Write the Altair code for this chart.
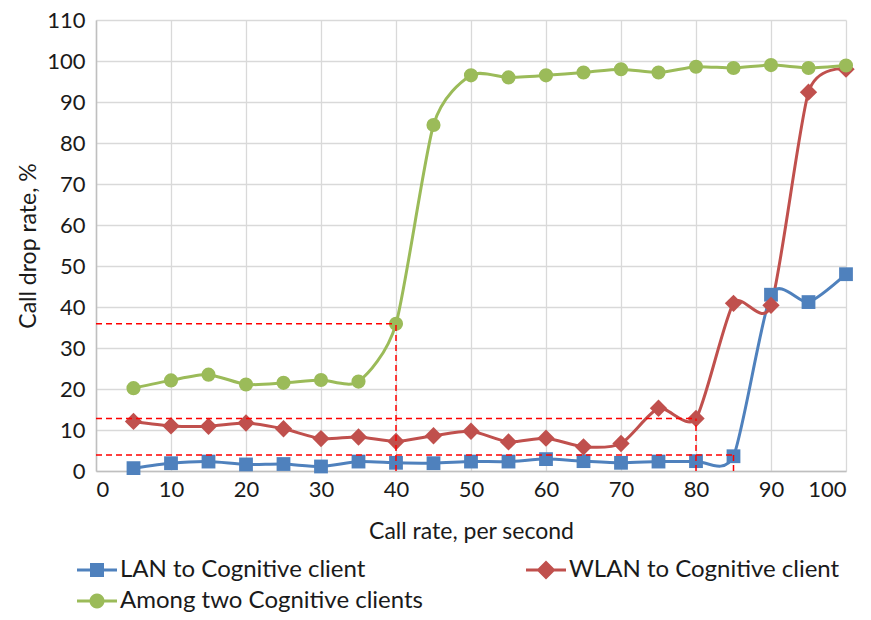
import math
import altair as alt
import pandas as pd

call_rate = [5, 10, 15, 20, 25, 30, 35, 40, 45, 50, 55, 60, 65, 70, 75, 80, 85, 90, 95, 100]
lan = [0.7, 1.9, 2.3, 1.6, 1.7, 1.1, 2.3, 2.0, 1.9, 2.3, 2.3, 2.9, 2.4, 2.0, 2.3, 2.4, 3.6, 43.0, 41.2, 48.0]
wlan = [12.1, 11.0, 10.9, 11.7, 10.3, 7.9, 8.3, 7.2, 8.6, 9.7, 7.1, 8.0, 5.9, 6.7, 15.3, 12.8, 40.9, 40.4, 92.4, 98.0]
among = [20.2, 22.1, 23.5, 21.1, 21.5, 22.2, 21.8, 35.9, 84.4, 96.5, 96.0, 96.5, 97.2, 98.0, 97.2, 98.6, 98.3, 99.0, 98.3, 98.9]

series_names = ["LAN to Cognitive client", "WLAN to Cognitive client", "Among two Cognitive clients"]
series_colors = ["#4f81bd", "#c0504d", "#9bbb59"]
series_shapes = ["square", "diamond", "circle"]
series_sizes = [190, 300, 200]

# legend fills column by column: this order puts LAN, WLAN on row 1 and Among on row 2
legend_order = ["LAN to Cognitive client", "Among two Cognitive clients", "WLAN to Cognitive client"]

ref_x = [40, 80, 85]
ref_y = [35.9, 12.8, 3.9]

x_ticks = list(range(0, 101, 10))
y_ticks = list(range(0, 111, 10))

rows = []
for name, vals in zip(series_names, [lan, wlan, among]):
    for xv, yv in zip(call_rate, vals):
        rows.append({"rate": xv, "drop": yv, "series": name})
df = pd.DataFrame(rows)

# legend-only rows, placed outside the scale domain and clipped away
legend_df = pd.DataFrame({"rate": [-500] * 3, "drop": [-500] * 3, "series": series_names})

ref_df = pd.DataFrame({"rx": ref_x, "ry": ref_y, "zero": [0] * len(ref_x)})

FONT = "Lato"

# legend glyphs: a short line with the series marker in its middle
line_part = "M-2.0,-0.15L2.0,-0.15L2.0,0.15L-2.0,0.15Z"
square_part = "M-0.7,-0.7L0.7,-0.7L0.7,0.7L-0.7,0.7Z"
diamond_part = "M0,-0.95L0.95,0L0,0.95L-0.95,0Z"
circle_pts = ["%.3f,%.3f" % (0.75 * math.cos(2 * math.pi * k / 24), 0.75 * math.sin(2 * math.pi * k / 24))
              for k in range(24)]
circle_part = "M" + "L".join(circle_pts) + "Z"
legend_paths = [line_part + square_part, line_part + diamond_part, line_part + circle_part]

x_enc = alt.X("rate:Q", scale=alt.Scale(domain=[0, 100], nice=False),
              axis=alt.Axis(values=x_ticks, title="Call rate, per second", labelPadding=8,
                            titlePadding=20, ticks=False, labelFontSize=22, titleFontSize=23,
                            titleFontWeight="normal", labelColor="#1a1a1a", titleColor="#1a1a1a",
                            gridColor="#d9d9d9", gridWidth=1.3, domainColor="#bfbfbf", domainWidth=1.5,
                            labelFont=FONT, titleFont=FONT))
y_enc = alt.Y("drop:Q", scale=alt.Scale(domain=[0, 110], nice=False),
              axis=alt.Axis(values=y_ticks, title="Call drop rate, %", labelPadding=11,
                            ticks=False, labelFontSize=22, titleFontSize=23, titleFontWeight="normal",
                            labelColor="#1a1a1a", titleColor="#1a1a1a", titleX=-68, titleBaseline="middle",
                            gridColor="#d9d9d9", gridWidth=1.3, domainColor="#bfbfbf", domainWidth=1.5,
                            labelFont=FONT, titleFont=FONT))

base = alt.Chart(df)

line_layers = []
point_layers = []
for i, (name, col, shp, sz) in enumerate(zip(series_names, series_colors, series_shapes, series_sizes)):
    sub = base.transform_filter(alt.datum.series == name)
    line_layers.append(
        sub.mark_line(interpolate="cardinal", tension=0.3, strokeWidth=3, color=col).encode(
            x=x_enc if i == 0 else alt.X("rate:Q"),
            y=y_enc if i == 0 else alt.Y("drop:Q"))
    )
    point_layers.append(
        sub.mark_point(filled=True, shape=shp, size=sz, color=col, opacity=1)
        .encode(x="rate:Q", y="drop:Q")
    )

leg = alt.Legend(title=None, orient="none", legendX=-11, legendY=538, columns=2, values=legend_order,
                 columnPadding=102, rowPadding=7, symbolSize=400, symbolStrokeWidth=0, symbolOpacity=1,
                 labelFontSize=24, labelFont=FONT, labelColor="#1a1a1a", labelOffset=11, labelLimit=500)

legend_layer = alt.Chart(legend_df).mark_point(filled=True, clip=True, opacity=1).encode(
    x="rate:Q", y="drop:Q",
    color=alt.Color("series:N", scale=alt.Scale(domain=series_names, range=series_colors), legend=leg),
    shape=alt.Shape("series:N", scale=alt.Scale(domain=series_names, range=legend_paths), legend=leg),
)

ref_h = alt.Chart(ref_df).mark_rule(color="#ff0000", strokeDash=[6, 4], strokeWidth=1.5).encode(
    x=alt.X("zero:Q"), x2="rx:Q", y=alt.Y("ry:Q"))
ref_v = alt.Chart(ref_df).mark_rule(color="#ff0000", strokeDash=[6, 4], strokeWidth=1.5).encode(
    x=alt.X("rx:Q"), y=alt.Y("zero:Q"), y2="ry:Q")

chart = alt.layer(*line_layers, *point_layers, legend_layer, ref_h, ref_v).properties(
    width=750, height=451,
    autosize=alt.AutoSizeParams(type="none"),
    padding={"left": 88, "top": 12, "right": 17, "bottom": 141},
).configure(font=FONT).configure_view(stroke=None)

chart.save("out.html", embed_options={"renderer": "svg", "actions": False})
